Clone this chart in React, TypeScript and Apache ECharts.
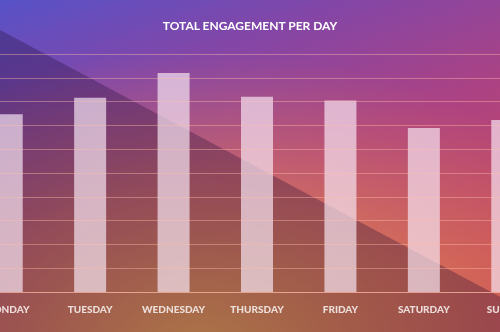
import React, { useEffect, useRef } from "react";
import * as echarts from "echarts";

const title = "TOTAL ENGAGEMENT PER DAY";
const days = ["MONDAY", "TUESDAY", "WEDNESDAY", "THURSDAY", "FRIDAY", "SATURDAY", "SUNDAY"];
const engagement = [74.7, 81.6, 92.0, 82.0, 80.5, 68.9, 72.3];
const axisMax = 100;
const axisStep = 10;

const OX = 35; // chart canvas extends 35px left of the visible window
const CW = 584;

export default function App() {
  const ref = useRef<HTMLDivElement>(null);
  useEffect(() => {
    document.body.style.margin = "0";
    const chart = echarts.init(ref.current!, null, { renderer: "svg" });
    chart.setOption({
      animation: false,
      graphic: [
        {
          type: "rect",
          z: -3,
          silent: true,
          shape: { x: OX, y: 0, width: 500, height: 332 },
          style: {
            fill: new echarts.graphic.LinearGradient(0, 0, 0.55, 1, [
              { offset: 0, color: "#5752c8" },
              { offset: 0.3, color: "#8446a6" },
              { offset: 0.62, color: "#ad4282" },
              { offset: 1, color: "#c84e5c" },
            ]),
          },
        },
        {
          type: "rect",
          z: -2,
          silent: true,
          shape: { x: OX, y: 0, width: 500, height: 332 },
          style: {
            fill: new echarts.graphic.RadialGradient(0.4, 1.05, 0.9, [
              { offset: 0, color: "rgba(236,170,80,0.95)" },
              { offset: 0.5, color: "rgba(226,140,80,0.55)" },
              { offset: 1, color: "rgba(220,120,90,0)" },
            ]),
          },
        },
        {
          type: "polygon",
          z: -1,
          silent: true,
          shape: { points: [[OX, 30], [OX + 570, 334], [OX, 334]] },
          style: { fill: "rgba(30,10,50,0.3)" },
        },
        {
          type: "text",
          z: 10,
          x: OX + 250,
          y: 25,
          style: {
            text: title,
            fill: "#ffffff",
            font: "bold 12px Lato",
            textAlign: "center",
            textVerticalAlign: "middle",
          },
        },
      ],
      grid: { left: 0, right: 0, top: 54, bottom: 40 },
      xAxis: {
        type: "category",
        data: days,
        axisTick: { show: false },
        axisLine: { show: true, lineStyle: { color: "rgba(255,195,180,0.5)", width: 1 } },
        axisLabel: {
          color: "rgba(242,232,230,0.92)",
          fontFamily: "Lato",
          fontWeight: 900,
          fontSize: 10,
          margin: 12,
          interval: 0,
        },
      },
      yAxis: {
        type: "value",
        min: 0,
        max: axisMax,
        interval: axisStep,
        z: 5,
        axisLabel: { show: false },
        axisLine: { show: false },
        axisTick: { show: false },
        splitLine: { show: true, lineStyle: { color: "rgba(255,190,170,0.42)", width: 1 } },
      },
      series: [
        {
          type: "bar",
          data: engagement,
          barWidth: 32,
          itemStyle: { color: "rgba(248,232,245,0.68)" },
        },
      ],
    });
    return () => chart.dispose();
  }, []);
  return (
    <div style={{ position: "fixed", left: 0, top: 0, width: 500, height: 332, overflow: "hidden" }}>
      <div ref={ref} style={{ position: "absolute", left: -OX, top: 0, width: CW, height: 332 }} />
    </div>
  );
}
